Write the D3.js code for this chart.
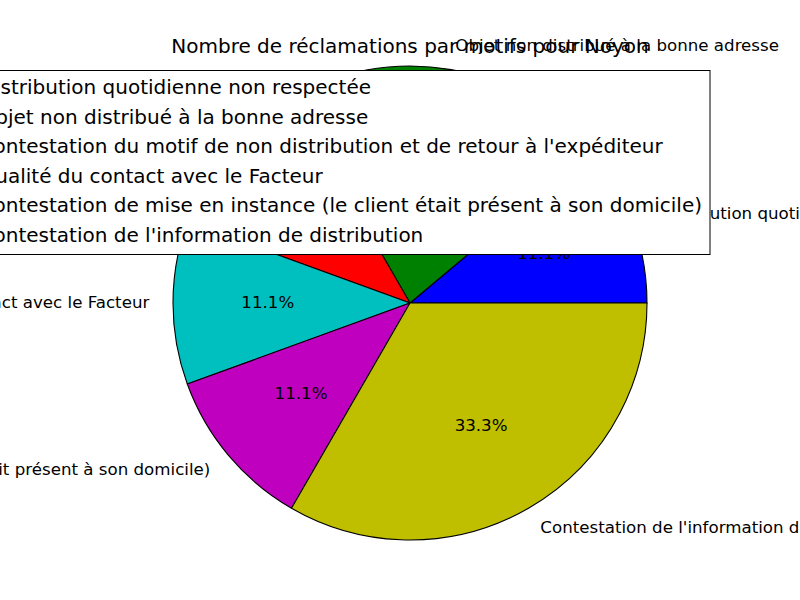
<!DOCTYPE html>
<html>
<head>
<meta charset="utf-8">
<script src="https://cdn.jsdelivr.net/npm/d3@7"></script>
<style>
  html, body { margin: 0; padding: 0; background: #fff; }
  svg { display: block; font-family: 'DejaVu Sans', sans-serif; }
</style>
</head>
<body>
<div id="chart"></div>
<script>
// données du graphique
const motifs = [
  'Distribution quotidienne non respectée',
  'Objet non distribué à la bonne adresse',
  "Contestation du motif de non distribution et de retour à l'expéditeur",
  'Qualité du contact avec le Facteur',
  'Contestation de mise en instance (le client était présent à son domicile)',
  "Contestation de l'information de distribution"
]
const reclamations = [1, 2, 1, 1, 1, 3]
const couleurs = ['#0000ff', '#008000', '#ff0000', '#00bfbf', '#bf00bf', '#bfbf00']
const titre = 'Nombre de réclamations par motifs pour Noyon'

const width = 800
const height = 600
const cx = 410
const cy = 303
const radius = 237
const labelSize = 16.67

const data = motifs.map((m, i) => ({ motif: m, value: reclamations[i] }))
const total = d3.sum(reclamations)
const pct = d3.format('.1f')

const color = d3.scaleOrdinal().domain(motifs).range(couleurs)

const svg = d3
  .select('#chart')
  .append('svg')
  .attr('width', width)
  .attr('height', height)

// sens trigonométrique à partir de 3h, comme matplotlib
const pie = d3
  .pie()
  .sort(null)
  .value((d) => d.value)
  .startAngle(Math.PI / 2)
  .endAngle(Math.PI / 2 - 2 * Math.PI)

const arcs = pie(data)
const arc = d3.arc().innerRadius(0).outerRadius(radius)

const g = svg.append('g').attr('transform', `translate(${cx},${cy})`)

g.selectAll('path')
  .data(arcs)
  .join('path')
  .attr('d', arc)
  .attr('fill', (d) => color(d.data.motif))
  .attr('stroke', '#000')
  .attr('stroke-width', 1.1)
  .attr('stroke-linejoin', 'round')

const mid = (d) => (d.startAngle + d.endAngle) / 2

// étiquettes extérieures
g.selectAll('text.label')
  .data(arcs)
  .join('text')
  .attr('class', 'label')
  .attr('x', (d) => 1.1 * radius * Math.sin(mid(d)))
  .attr('y', (d) => -1.1 * radius * Math.cos(mid(d)))
  .attr('dy', '0.28em')
  .attr('text-anchor', (d) => (Math.sin(mid(d)) > 0 ? 'start' : 'end'))
  .style('font-size', labelSize + 'px')
  .text((d) => d.data.motif)

// pourcentages
g.selectAll('text.pct')
  .data(arcs)
  .join('text')
  .attr('class', 'pct')
  .attr('x', (d) => 0.6 * radius * Math.sin(mid(d)))
  .attr('y', (d) => -0.6 * radius * Math.cos(mid(d)))
  .attr('dy', '0.28em')
  .attr('text-anchor', 'middle')
  .style('font-size', labelSize + 'px')
  .text((d) => pct((100 * d.data.value) / total) + '%')

// titre
svg
  .append('text')
  .attr('x', cx)
  .attr('y', 53)
  .attr('text-anchor', 'middle')
  .style('font-size', '20px')
  .text(titre)

// légende (coin supérieur droit)
const fs = 20
const legendRight = 710
const legendTop = 70
const legendBottom = 254
const firstBase = 94
const step = 29.6

const legend = svg.append('g')
const box = legend.append('rect')

const texts = legend
  .selectAll('text')
  .data(motifs)
  .join('text')
  .attr('y', (d, i) => firstBase + i * step)
  .style('font-size', fs + 'px')
  .text((d) => d)

let maxW = 0
texts.each(function () {
  maxW = Math.max(maxW, this.getComputedTextLength())
})
const textX = legendRight - 0.4 * fs - maxW
texts.attr('x', textX)

legend
  .selectAll('rect.handle')
  .data(motifs)
  .join('rect')
  .attr('class', 'handle')
  .attr('x', textX - 0.8 * fs - 2 * fs)
  .attr('y', (d, i) => firstBase + i * step - 0.35 * fs - 0.35 * fs)
  .attr('width', 2 * fs)
  .attr('height', 0.7 * fs)
  .attr('fill', (d) => color(d))
  .attr('stroke', '#000')
  .attr('stroke-width', 1)

const legendLeft = textX - 0.8 * fs - 2 * fs - 0.4 * fs
box
  .attr('x', legendLeft)
  .attr('y', legendTop + 0.5)
  .attr('width', legendRight - legendLeft)
  .attr('height', legendBottom - legendTop)
  .attr('fill', '#fff')
  .attr('stroke', '#000')
  .attr('stroke-width', 1)
</script>
</body>
</html>
